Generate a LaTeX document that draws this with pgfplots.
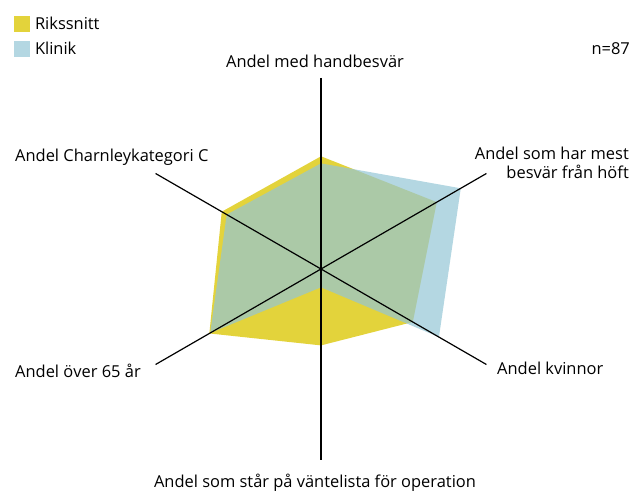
\documentclass[border=0pt]{standalone}
\usepackage{fontspec}
\setmainfont{Open Sans}
\usepackage{pgfplots}
\pgfplotsset{compat=1.18}
\usepgfplotslibrary{polar}

\definecolor{riks}{RGB}{227,211,59}
\definecolor{klin}{RGB}{148,198,213}

\begin{document}
\begin{tikzpicture}[x=1bp,y=1bp,font=\fontsize{16.5}{20}\selectfont]
\useasboundingbox (0,0) rectangle (637,493);
\begin{polaraxis}[
    at={(321bp,224bp)}, anchor=center,
    width=382bp, height=382bp, scale only axis,
    hide axis, clip=false,
    xmin=0, xmax=360, ymin=0, ymax=1,
    legend style={at={(-0.304,1.165)}, anchor=north west, draw=none,
        fill=none, inner sep=0pt, row sep=7bp,
        font=\fontsize{16.5}{20}\selectfont},
    legend cell align=left,
    legend image code/.code={\fill[#1] (0bp,-8bp) rectangle (16bp,8bp);
        \path (19bp,0bp);},
]
% Rikssnitt
\addplot[fill=riks, draw=none] coordinates {
    (90,0.59) (30,0.70) (330,0.555) (270,0.40) (210,0.675) (150,0.60) (90,0.59)};
\addlegendentry{Rikssnitt}
% Klinik
\addplot[fill=klin, fill opacity=0.7, draw=none] coordinates {
    (90,0.553) (30,0.845) (330,0.713) (270,0.096) (210,0.67) (150,0.57) (90,0.553)};
\addlegendentry{Klinik}
% axes
\addplot[black, line width=1.2bp, forget plot] coordinates {(90,1) (270,1)};
\addplot[black, line width=1.2bp, forget plot] coordinates {(30,1) (210,1)};
\addplot[black, line width=1.2bp, forget plot] coordinates {(150,1) (330,1)};
\end{polaraxis}

\node[anchor=base, inner sep=0pt] at (315,425) {Andel med handbesvär};
\node[anchor=base west, inner sep=0pt] at (15,331) {Andel Charnleykategori C};
\node[anchor=base west, inner sep=0pt] at (15,115) {Andel över 65 år};
\node[anchor=base west, inner sep=0pt] at (497,118) {Andel kvinnor};
\node[anchor=base, inner sep=0pt] at (315,5.3) {Andel som står på väntelista för operation};
\node[anchor=base east, inner sep=0pt] at (629,333) {Andel som har mest};
\node[anchor=base east, inner sep=0pt] at (629,314) {besvär från höft};
\node[anchor=base east, inner sep=0pt] at (630,438) {n=87};
\end{tikzpicture}
\end{document}
